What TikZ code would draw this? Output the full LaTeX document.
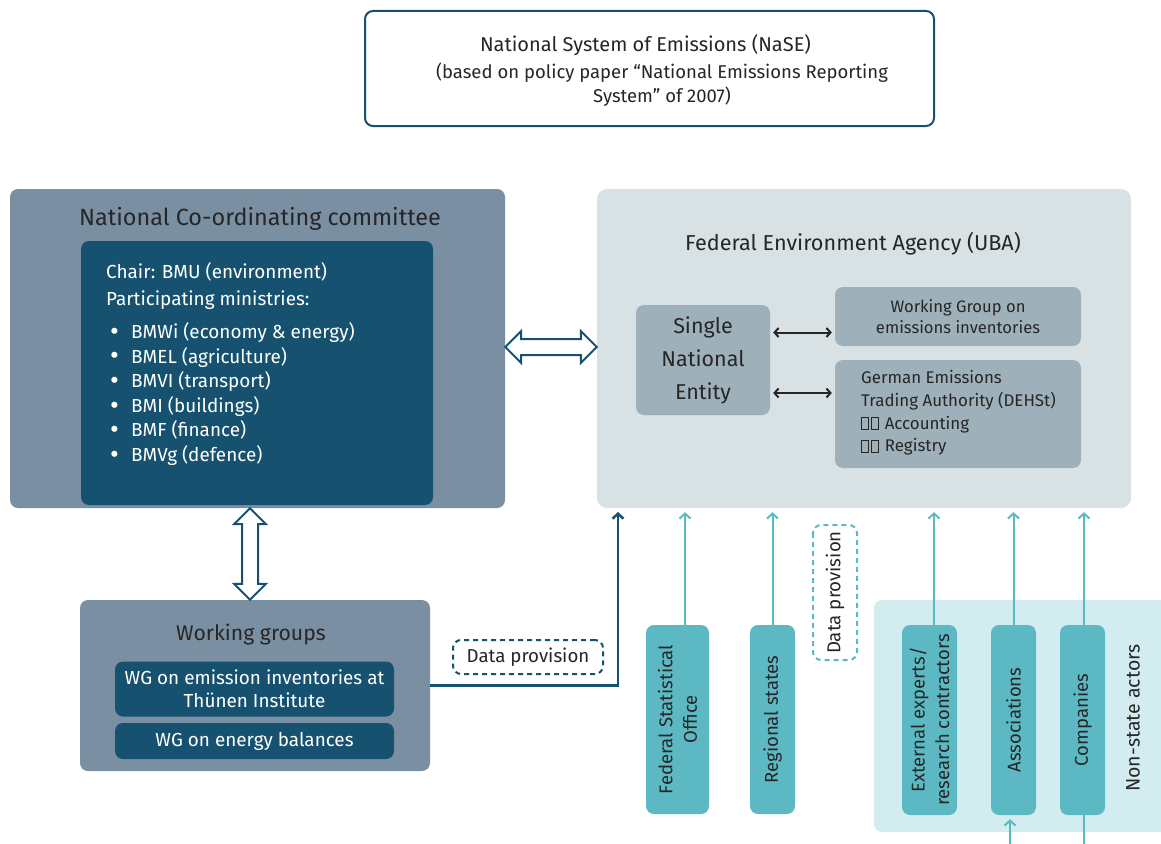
\documentclass[tikz,border=0pt]{standalone}
\usepackage{fontspec}
\setmainfont{Fira Sans}
\usetikzlibrary{arrows.meta,calc}
\definecolor{dteal}{HTML}{16526F}
\definecolor{slate}{HTML}{7B8FA3}
\definecolor{lgrey}{HTML}{D8E1E4}
\definecolor{mgrey}{HTML}{9EB0BA}
\definecolor{cteal}{HTML}{5CB9C3}
\definecolor{lteal}{HTML}{D3ECEF}
\definecolor{txt}{HTML}{262626}
\newcommand\fs[2]{\fontsize{#1pt}{#2pt}\selectfont}
\newcommand\tofu{{\fboxsep=0pt\fboxrule=0.9pt\fbox{\rule{0pt}{11pt}\hspace{6pt}}}\kern2pt}
\newcommand\bigbul{\makebox[21pt][l]{\raisebox{-1.8pt}{\fontsize{27pt}{27pt}\selectfont •}}}
\tikzset{
  box/.style={rectangle, rounded corners=8pt, inner sep=0pt, text=txt},
  tarr/.style={draw=cteal, line width=2pt, -{Straight Barb[length=5pt,width=11pt]}, shorten >=4pt},
  blk/.style={draw=black!85, line width=2pt, {Straight Barb[length=4pt,width=9pt]}-{Straight Barb[length=4pt,width=9pt]}, shorten >=3pt, shorten <=3pt},
  hollow/.style={draw=dteal, line width=2pt, fill=white, line join=miter},
  lbl/.style={inner sep=0pt, text=txt},
  wlbl/.style={inner sep=0pt, text=white, anchor=base west, font=\fs{18.9}{24}},
  vbox/.style={box, fill=cteal, rotate=90, align=center, font=\fs{18.5}{24.5}},
}
\begin{document}
\begin{tikzpicture}[x=1pt,y=-1pt]
\useasboundingbox (0,0) rectangle (1161,843);
% title
\node[box, draw=dteal, line width=2pt, fill=white, minimum width=569, minimum height=115] (title) at (649.5,68.5) {};
\node[lbl, font=\fs{20}{24}] (titleA) at (645.5,45) {National System of Emissions (NaSE)};
\node[lbl, font=\fs{18.5}{24}] (titleB) at (662,73) {(based on policy paper “National Emissions Reporting};
\node[lbl, font=\fs{18.5}{24}] (titleC) at (662,97) {System” of 2007)};
% national co-ordinating committee
\node[box, fill=slate, minimum width=495, minimum height=319] (ncc) at (257.5,348.5) {};
\node[lbl, font=\fs{23.4}{28}] (nccT) at (260,219) {National Co-ordinating committee};
\node[box, fill=dteal, minimum width=352, minimum height=264] (nccI) at (257,373) {};
\node[wlbl] (chair) at (106,278.5) {Chair: BMU (environment)};
\node[wlbl] (part) at (106,305.5) {Participating ministries:};
\foreach \t [count=\i] in {BMWi (economy \& energy), BMEL (agriculture), BMVI (transport), BMI (buildings), BMF (finance), BMVg (defence)}{
  \node[wlbl] (b\i) at (110,{338.5+24.6*(\i-1)}) {\bigbul\t};
}
% UBA
\node[box, fill=lgrey, rounded corners=10pt, minimum width=534, minimum height=319] (uba) at (864,348.5) {};
\node[lbl, font=\fs{21.6}{26}] (ubaT) at (853,244) {Federal Environment Agency (UBA)};
\node[box, fill=mgrey, minimum width=134, minimum height=110, align=center, font=\fs{21.5}{33}] (sne) at (703,360) {Single\\National\\Entity};
\node[box, fill=mgrey, minimum width=246, minimum height=59, align=center, font=\fs{16.6}{21}] (wgi) at (958,316.5) {Working Group on\\emissions inventories};
\node[box, fill=mgrey, minimum width=246, minimum height=108] (dehst) at (958,414) {};
\node[lbl, anchor=west, align=left, font=\fs{16.9}{22.7}] (dehstT) at (861,413)
  {German Emissions\\Trading Authority (DEHSt)\\\tofu\tofu\hspace{4pt}Accounting\\\tofu\tofu\hspace{4pt}Registry};
\draw[blk] ($(sne.east |- wgi.west)+(0,16)$) -- ($(wgi.west)+(0,16)$);
\draw[blk] ($(sne.east |- dehst.west)+(0,-21)$) -- ($(dehst.west)+(0,-21)$);
% hollow double arrows
\coordinate (ha) at ($(ncc.east)+(0,-1.5)$);
\coordinate (hb) at (ha -| uba.west);
\draw[hollow] (ha) -- ++(16,-16) -- ++(0,8) -- ($(hb)+(-16,-8)$) -- ++(0,-8) -- (hb) -- ++(-16,16) -- ++(0,-8) -- ($(ha)+(16,8)$) -- ++(0,8) -- cycle;
% working groups
\node[box, fill=slate, minimum width=350, minimum height=171] (wg) at (255,685.5) {};
\node[lbl, font=\fs{21.2}{26}] (wgT) at (251,634) {Working groups};
\node[box, fill=dteal, text=white, minimum width=279, minimum height=55, align=center, font=\fs{18.9}{23}] (wg1) at (254.5,689) {WG on emission inventories at\\Thünen Institute};
\node[box, fill=dteal, text=white, minimum width=279, minimum height=36, font=\fs{18.9}{23}] (wg2) at (254.5,741) {WG on energy balances};
\coordinate (va) at ($(ncc.south)+(-7.5,0)$);
\coordinate (vb) at (va |- wg.north);
\draw[hollow] (va) -- ++(-16,16) -- ++(8,0) -- ($(vb)+(-8,-16)$) -- ++(-8,0) -- (vb) -- ++(16,-16) -- ++(-8,0) -- ($(va)+(8,16)$) -- ++(8,0) -- cycle;
% data provision connector
\coordinate (ubain) at (618,508);
\draw[draw=dteal, line width=2.5pt, -{Straight Barb[length=5pt,width=11pt]}, shorten >=4pt] (wg.east) -| (ubain);
\node[box, draw=dteal, dashed, dash pattern=on 5pt off 4pt, line width=2pt, fill=white, minimum width=150, minimum height=34, font=\fs{18.7}{22}] (dp1) at (528,657) {Data provision};
% non-state actors background
\node[box, fill=lteal, minimum width=300, minimum height=232] (nsa) at (1024,716) {};
\node[lbl, rotate=90, font=\fs{19.5}{24}] (nsaT) at (1133,718) {Non-state actors};
% vertical teal boxes
\node[vbox, minimum width=189, minimum height=63] (fso) at (677.5,719.5) {Federal Statistical\\Office};
\node[vbox, minimum width=189, minimum height=45] (rs) at (772.5,719.5) {Regional states};
\node[vbox, minimum width=190, minimum height=55] (ee) at (929.5,720) {External experts/\\research contractors};
\node[vbox, minimum width=190, minimum height=45] (as) at (1013.5,720) {Associations};
\node[vbox, minimum width=190, minimum height=45] (co) at (1082.5,720) {Companies};
\node[box, draw=cteal, dashed, dash pattern=on 5pt off 4pt, line width=2pt, rotate=90, minimum width=135, minimum height=44, font=\fs{18.7}{22}] (dp2) at (835,592.5) {Data provision};
% teal arrows up
\draw[tarr] ([xshift=7.5pt]fso.east) -- ([xshift=7.5pt]fso.east |- uba.south);
\draw[tarr] (rs.east) -- (rs.east |- uba.south);
\draw[tarr] ([xshift=4.5pt]ee.east) -- ([xshift=4.5pt]ee.east |- uba.south);
\draw[tarr] (as.east) -- (as.east |- uba.south);
\draw[tarr] ([xshift=1.5pt]co.east) -- ([xshift=1.5pt]co.east |- uba.south);
\coordinate (asb) at (1010,845);
\coordinate (cob) at (1084,845);
\draw[tarr] (asb) -- (asb |- as.west);
\draw[draw=cteal, line width=2pt] (cob |- co.west) -- (cob);
\end{tikzpicture}
\end{document}
